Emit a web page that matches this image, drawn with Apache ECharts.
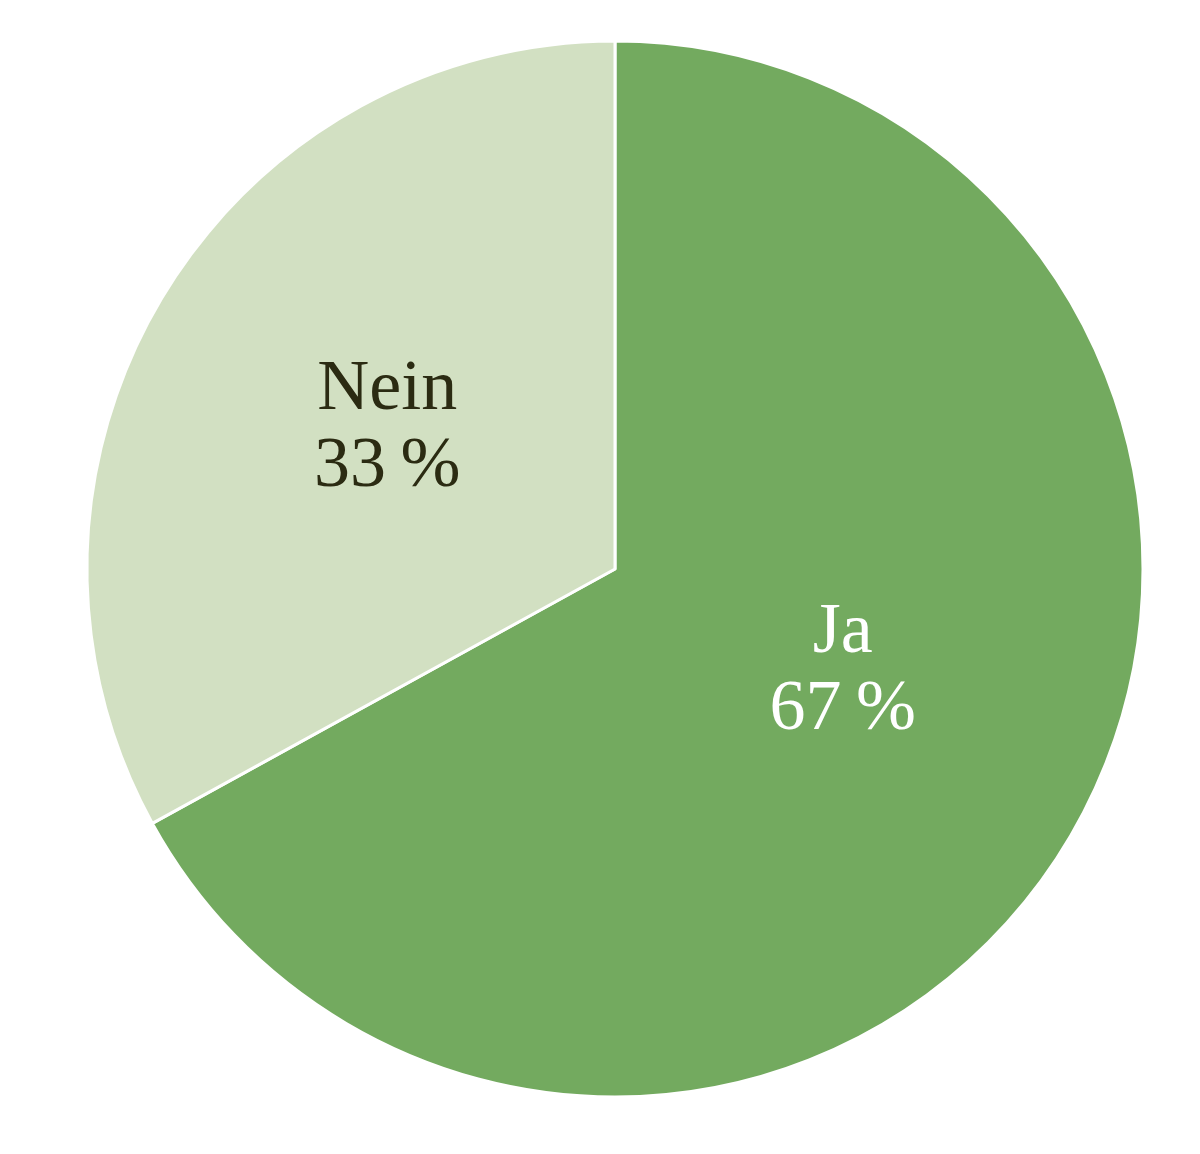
<!DOCTYPE html>
<html>
<head>
<meta charset="utf-8">
<script src="https://cdn.jsdelivr.net/npm/echarts@6/dist/echarts.min.js"></script>
<style>html,body{margin:0;padding:0;background:#fff;}#c{width:1200px;height:1154px;}</style>
</head>
<body>
<div id="c"></div>
<script>
const categories = ['Ja', 'Nein'];
const values = [67, 33];
const colors = ['#73aa5f', '#d2e0c2'];
const labelColors = ['#ffffff', '#2b2b12'];
const offsets = [[-2, -33], [2, -4]];

const chart = echarts.init(document.getElementById('c'));
chart.setOption({
  animation: false,
  series: [{
    type: 'pie',
    center: [615, 569],
    radius: 528,
    startAngle: 90,
    clockwise: true,
    data: categories.map((name, i) => ({
      name: name,
      value: values[i],
      itemStyle: { color: colors[i] },
      label: { color: labelColors[i], offset: offsets[i] }
    })),
    itemStyle: { borderColor: '#ffffff', borderWidth: 3 },
    label: {
      show: true,
      position: 'inside',
      formatter: '{b}\n{c}\u2009%',
      fontFamily: '"Liberation Serif", "DejaVu Serif", serif',
      fontSize: 72,
      lineHeight: 77
    },
    labelLine: { show: false },
    emphasis: { disabled: true }
  }]
});
</script>
</body>
</html>
